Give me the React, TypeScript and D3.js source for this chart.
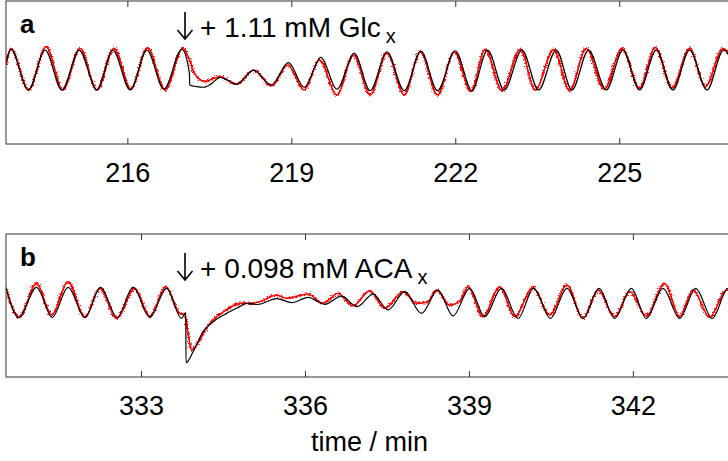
import React from 'react';
import * as d3 from 'd3';

type Pt = [number, number];

// panel a: glucose pulse (time in min, signal in a.u.)
const glcTicks = [216, 219, 222, 225];
const glcSpan: Pt = [213.77, 227.2];
const glcModel: Pt[] = [
  [213.773, 57.3], [213.859, 66.2], [214.181, 37.8], [214.486, 65.7], [214.792, 37.8], [215.109, 65.7],
  [215.433, 37.8], [215.725, 65.7], [216.042, 37.8], [216.348, 65.7], [216.66, 38.3], [216.988, 66.2],
  [217.127, 49.4], [217.131, 41.3], [217.263, 40.1], [217.384, 39.7], [217.537, 42.4], [217.689, 46.6],
  [217.995, 41.7], [218.299, 51.7], [218.623, 41.3], [218.939, 56.9], [219.227, 39.7], [219.532, 60.6],
  [219.825, 38.3], [220.142, 63.4], [220.434, 37.3], [220.74, 64.5], [221.057, 37.3], [221.362, 65.0],
  [221.666, 37.3], [221.99, 65.2], [222.296, 37.4], [222.581, 65.7], [222.887, 37.8], [223.211, 65.7],
  [223.515, 37.8], [223.839, 65.7], [224.126, 37.8], [224.43, 65.7], [224.754, 37.8], [225.059, 65.7],
  [225.363, 37.8], [225.669, 65.7], [225.974, 37.8], [226.278, 65.7], [226.597, 37.8], [226.9, 65.7],
  [227.206, 37.8],
];
const glcData: Pt[] = [
  [213.773, 55.2], [213.859, 66.9], [214.181, 37.8], [214.505, 68.0], [214.81, 37.8], [215.127, 66.9],
  [215.433, 37.8], [215.749, 66.9], [216.055, 38.3], [216.359, 67.3], [216.683, 37.8], [217.007, 66.9],
  [217.14, 57.6], [217.201, 50.6], [217.292, 45.9], [217.415, 43.6], [217.567, 45.9], [217.689, 47.1],
  [217.872, 43.6], [217.995, 42.0], [218.299, 51.7], [218.635, 40.6], [218.921, 55.2], [219.227, 37.8],
  [219.507, 58.7], [219.825, 34.3], [220.129, 62.2], [220.434, 34.3], [220.74, 63.4], [221.057, 34.3],
  [221.35, 64.5], [221.666, 34.3], [221.972, 64.5], [222.277, 36.6], [222.539, 66.2], [222.845, 37.3],
  [223.18, 66.2], [223.454, 37.8], [223.789, 66.2], [224.082, 37.3], [224.388, 66.9], [224.717, 38.3],
  [225.041, 66.9], [225.363, 39.0], [225.651, 67.6], [225.956, 39.0], [226.278, 66.9], [226.566, 40.1],
  [226.889, 66.9], [227.206, 39.2],
];

// panel b: acetaldehyde pulse
const acaTicks = [333, 336, 339, 342];
const acaSpan: Pt = [330.52, 343.95];
const acaModel: Pt[] = [
  [330.518, 62.7], [330.756, 41.7], [331.079, 62.7], [331.365, 41.7], [331.657, 62.7], [331.963, 41.7],
  [332.25, 62.7], [332.554, 41.7], [332.846, 62.7], [333.152, 41.7], [333.457, 62.0], [333.732, 41.0],
  [333.81, 45.0], [333.814, 10.0], [333.944, 17.7], [334.127, 31.7], [334.31, 38.7], [334.555, 44.5],
  [334.798, 49.2], [334.921, 51.5], [335.127, 50.7], [335.475, 54.8], [335.749, 52.0], [336.047, 55.7],
  [336.353, 50.8], [336.658, 56.6], [336.944, 49.2], [337.236, 58.0], [337.511, 46.9], [337.816, 59.7],
  [338.122, 44.5], [338.425, 60.8], [338.7, 42.7], [339.005, 62.0], [339.279, 42.2], [339.585, 62.0],
  [339.889, 41.0], [340.176, 62.0], [340.481, 41.0], [340.785, 62.0], [341.078, 41.0], [341.37, 62.0],
  [341.657, 41.0], [341.963, 62.0], [342.237, 41.0], [342.541, 62.0], [342.846, 41.0], [343.139, 62.0],
  [343.445, 41.0], [343.73, 62.0], [344.035, 41.0],
];
const acaData: Pt[] = [
  [330.518, 62.0], [330.756, 41.7], [331.079, 65.5], [331.354, 43.4], [331.657, 66.6], [331.963, 41.7],
  [332.237, 62.0], [332.543, 41.0], [332.877, 62.0], [333.152, 42.2], [333.444, 63.1], [333.701, 44.5],
  [333.792, 43.4], [333.852, 30.6], [333.915, 18.9], [334.006, 22.4], [334.189, 34.1], [334.31, 39.9],
  [334.555, 46.9], [334.798, 51.5], [334.981, 51.5], [335.164, 52.7], [335.469, 57.3], [335.652, 55.0],
  [336.047, 58.0], [336.322, 51.5], [336.596, 58.5], [336.871, 49.7], [337.176, 60.3], [337.45, 48.0],
  [337.785, 59.7], [338.03, 51.5], [338.237, 52.4], [338.396, 60.8], [338.639, 50.3], [338.822, 53.1],
  [338.974, 63.1], [339.248, 42.2], [339.554, 63.1], [339.828, 42.2], [340.163, 62.7], [340.469, 43.4],
  [340.785, 64.3], [341.078, 41.0], [341.352, 60.8], [341.657, 42.2], [341.932, 59.7], [342.237, 42.7],
  [342.572, 65.5], [342.846, 42.2], [343.09, 60.8], [343.395, 41.7], [343.701, 60.8], [344.035, 42.7],
];

const W = 728;
const H = 461;
const LEFT = 6;
const PX_PER_MIN = 54.65;
const PANEL_H = 143;
const FONT = 'Liberation Sans, Arial, Helvetica, sans-serif';
const FRAME = '#333';

type PanelProps = {
  id: string;
  top: number;
  span: Pt;
  ticks: number[];
  model: Pt[];
  data: Pt[];
  letter: string;
  note: string;
  noteY: number;
};

const Panel = ({ id, top, span, ticks, model, data, letter, note, noteY }: PanelProps) => {
  const x = d3.scaleLinear()
    .domain(span)
    .range([LEFT, LEFT + (span[1] - span[0]) * PX_PER_MIN]);
  const y = d3.scaleLinear().domain([0, 100]).range([top + PANEL_H, top]);
  const line = d3.line<Pt>()
    .x((d) => x(d[0]))
    .y((d) => y(d[1]))
    .curve(d3.curveMonotoneX);
  const [x0, x1] = x.range();
  const bottom = top + PANEL_H;
  const ax = 185; // pulse marker

  return (
    <g>
      <defs>
        <clipPath id={`clip-${id}`}>
          <rect x={x0} y={top} width={x1 - x0} height={PANEL_H} />
        </clipPath>
      </defs>
      <g clipPath={`url(#clip-${id})`}>
        <path d={line(data) ?? ''} fill="none" stroke="#ff0000" strokeWidth={1.3} />
        <path d={line(data) ?? ''} fill="none" stroke="#ff0000" strokeWidth={1.6} filter="url(#jitter)" />
        <path d={line(model) ?? ''} fill="none" stroke="#000" strokeWidth={1.2} />
      </g>
      <rect x={x0} y={top} width={x1 - x0} height={PANEL_H} fill="none" stroke={FRAME} strokeWidth={1} />
      {ticks.map((t) => (
        <g key={t}>
          <line x1={x(t)} x2={x(t)} y1={top} y2={top + 6} stroke={FRAME} />
          <line x1={x(t)} x2={x(t)} y1={bottom} y2={bottom - 6} stroke={FRAME} />
          <text x={x(t)} y={bottom + 38} textAnchor="middle" fontSize={27} fontFamily={FONT}>
            {t}
          </text>
        </g>
      ))}
      <text x={20} y={top + 32} fontSize={26} fontWeight="bold" fontFamily={FONT}>
        {letter}
      </text>
      <path
        d={`M${ax},${noteY - 25}V${noteY + 2}M${ax - 7.5},${noteY - 7}L${ax},${noteY + 2}L${ax + 7.5},${noteY - 7}`}
        fill="none"
        stroke="#000"
        strokeWidth={1.6}
      />
      <text x={200} y={noteY} fontSize={28} fontFamily={FONT}>
        {note}
        <tspan dx={5} dy={6} fontSize={20}>x</tspan>
      </text>
    </g>
  );
};

export default function App() {
  return (
    <svg
      width={W}
      height={H}
      viewBox={`0 0 ${W} ${H}`}
      style={{ position: 'absolute', left: 0, top: 0, background: '#fff' }}
    >
      <defs>
        <filter id="jitter" filterUnits="userSpaceOnUse" x={0} y={0} width={W} height={H}>
          <feTurbulence type="fractalNoise" baseFrequency="0.7 0.9" numOctaves={2} seed={7} result="noise" />
          <feDisplacementMap in="SourceGraphic" in2="noise" scale={6} xChannelSelector="R" yChannelSelector="G" />
        </filter>
      </defs>
      <Panel
        id="a"
        top={1}
        span={glcSpan}
        ticks={glcTicks}
        model={glcModel}
        data={glcData}
        letter="a"
        note="+ 1.11 mM Glc"
        noteY={37}
      />
      <Panel
        id="b"
        top={234}
        span={acaSpan}
        ticks={acaTicks}
        model={acaModel}
        data={acaData}
        letter="b"
        note="+ 0.098 mM ACA"
        noteY={278}
      />
      <text x={369.5} y={451} textAnchor="middle" fontSize={27} fontFamily={FONT}>
        time / min
      </text>
    </svg>
  );
}
